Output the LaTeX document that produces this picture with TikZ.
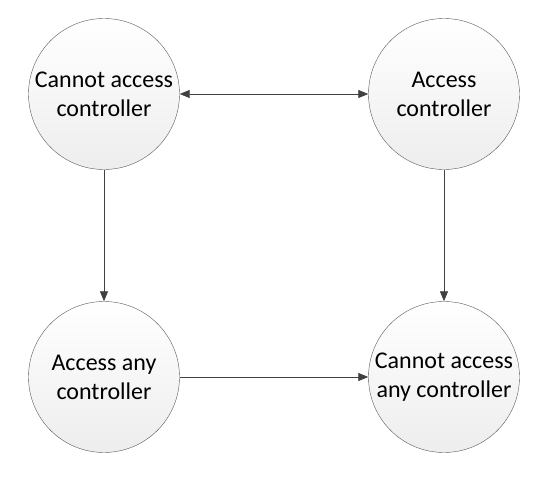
\documentclass[tikz,border=0pt]{standalone}
\usepackage{fontspec}
\setmainfont{Carlito}
\usetikzlibrary{arrows.meta}

\begin{document}
\begin{tikzpicture}[x=1pt, y=-1pt,
  state/.style={circle, draw=black!65, top color=white, bottom color=black!7,
    minimum size=151pt, inner sep=0pt, align=center, font=\fontsize{24}{29}\selectfont},
  link/.style={draw=black!75, thick, >={Triangle[length=10pt, width=8pt]}}]
\useasboundingbox (0,0) rectangle (547,482);
\node[state] (noctl)  at (104,94)  {Cannot access\\controller};
\node[state] (ctl)    at (444,94)  {Access\\controller};
\node[state] (anyctl) at (104,377) {Access any\\controller};
\node[state] (noany)  at (444,377) {Cannot access\\any controller};
\draw[link, <->] (noctl) -- (ctl);
\draw[link, ->] (noctl) -- (anyctl);
\draw[link, ->] (ctl) -- (noany);
\draw[link, ->] (anyctl) -- (noany);
\end{tikzpicture}
\end{document}
